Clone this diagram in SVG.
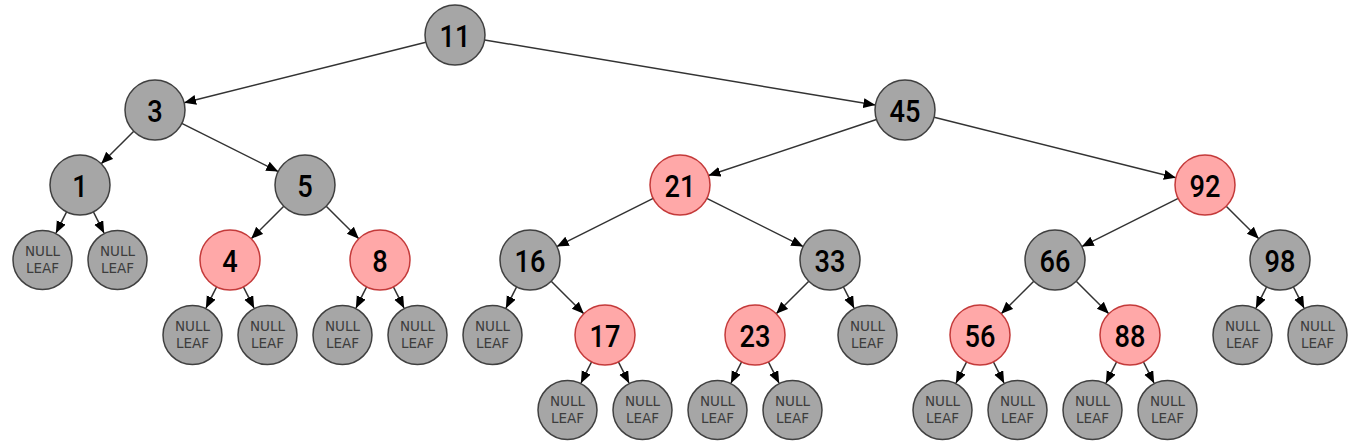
<svg xmlns="http://www.w3.org/2000/svg" width="1358" height="446" viewBox="0 0 1358 446">
<style>
.b circle{fill:#a6a6a6;stroke:#404040;stroke-width:1.5}
.r circle{fill:#ffa8a8;stroke:#c43a3a;stroke-width:1.5}
.n{font-family:Roboto,"DejaVu Sans",sans-serif;font-weight:500;font-size:32px;fill:#000;text-anchor:middle}
.l circle{fill:#a6a6a6;stroke:#404040;stroke-width:1.5}
.l text{font-family:"DejaVu Sans",sans-serif;font-size:13.5px;fill:#3c3c3c;text-anchor:middle}
#edges line{stroke:#333;stroke-width:1.5;marker-end:url(#ah)}
</style>
<defs>
<marker id="ah" markerUnits="userSpaceOnUse" markerWidth="13" markerHeight="11" refX="12" refY="5" orient="auto">
<path d="M0,0 L12,5 L0,10 z" fill="#000"/>
</marker>
</defs>
<rect width="1358" height="446" fill="#fff"/>
<g id="edges">
<line x1="425.9" y1="42.3" x2="184.1" y2="102.7"/>
<line x1="484.6" y1="39.9" x2="875.4" y2="105.1"/>
<line x1="133.8" y1="131.2" x2="101.2" y2="163.8"/>
<line x1="181.8" y1="123.4" x2="278.2" y2="171.6"/>
<line x1="876.5" y1="119.5" x2="708.5" y2="175.5"/>
<line x1="934.1" y1="117.3" x2="1175.9" y2="177.7"/>
<line x1="66.6" y1="211.8" x2="55.9" y2="233.2"/>
<line x1="93.4" y1="211.8" x2="104.1" y2="233.2"/>
<line x1="283.8" y1="206.2" x2="251.2" y2="238.8"/>
<line x1="326.2" y1="206.2" x2="358.8" y2="238.8"/>
<line x1="653.2" y1="198.4" x2="556.8" y2="246.6"/>
<line x1="706.8" y1="198.4" x2="803.2" y2="246.6"/>
<line x1="1178.2" y1="198.4" x2="1081.8" y2="246.6"/>
<line x1="1226.2" y1="206.2" x2="1258.8" y2="238.8"/>
<line x1="216.6" y1="286.8" x2="205.9" y2="308.2"/>
<line x1="243.4" y1="286.8" x2="254.1" y2="308.2"/>
<line x1="366.6" y1="286.8" x2="355.9" y2="308.2"/>
<line x1="393.4" y1="286.8" x2="404.1" y2="308.2"/>
<line x1="516.6" y1="286.8" x2="505.9" y2="308.2"/>
<line x1="551.2" y1="281.2" x2="583.8" y2="313.8"/>
<line x1="808.8" y1="281.2" x2="776.2" y2="313.8"/>
<line x1="843.4" y1="286.8" x2="854.1" y2="308.2"/>
<line x1="1033.8" y1="281.2" x2="1001.2" y2="313.8"/>
<line x1="1076.2" y1="281.2" x2="1108.8" y2="313.8"/>
<line x1="1266.6" y1="286.8" x2="1255.9" y2="308.2"/>
<line x1="1293.4" y1="286.8" x2="1304.1" y2="308.2"/>
<line x1="591.6" y1="361.8" x2="580.9" y2="383.2"/>
<line x1="618.4" y1="361.8" x2="629.1" y2="383.2"/>
<line x1="741.6" y1="361.8" x2="730.9" y2="383.2"/>
<line x1="768.4" y1="361.8" x2="779.1" y2="383.2"/>
<line x1="966.6" y1="361.8" x2="955.9" y2="383.2"/>
<line x1="993.4" y1="361.8" x2="1004.1" y2="383.2"/>
<line x1="1116.6" y1="361.8" x2="1105.9" y2="383.2"/>
<line x1="1143.4" y1="361.8" x2="1154.1" y2="383.2"/>
</g>
<g id="n11" class="b"><circle cx="455" cy="35" r="30"/><text class="n" transform="translate(455 47) scale(0.85 1)">11</text></g>
<g id="n3" class="b"><circle cx="155" cy="110" r="30"/><text class="n" transform="translate(155 122) scale(0.85 1)">3</text></g>
<g id="n45" class="b"><circle cx="905" cy="110" r="30"/><text class="n" transform="translate(905 122) scale(0.85 1)">45</text></g>
<g id="n1" class="b"><circle cx="80" cy="185" r="30"/><text class="n" transform="translate(80 197) scale(0.85 1)">1</text></g>
<g id="n5" class="b"><circle cx="305" cy="185" r="30"/><text class="n" transform="translate(305 197) scale(0.85 1)">5</text></g>
<g id="n21" class="r"><circle cx="680" cy="185" r="30"/><text class="n" transform="translate(680 197) scale(0.85 1)">21</text></g>
<g id="n92" class="r"><circle cx="1205" cy="185" r="30"/><text class="n" transform="translate(1205 197) scale(0.85 1)">92</text></g>
<g id="n4" class="r"><circle cx="230" cy="260" r="30"/><text class="n" transform="translate(230 272) scale(0.85 1)">4</text></g>
<g id="n8" class="r"><circle cx="380" cy="260" r="30"/><text class="n" transform="translate(380 272) scale(0.85 1)">8</text></g>
<g id="n16" class="b"><circle cx="530" cy="260" r="30"/><text class="n" transform="translate(530 272) scale(0.85 1)">16</text></g>
<g id="n33" class="b"><circle cx="830" cy="260" r="30"/><text class="n" transform="translate(830 272) scale(0.85 1)">33</text></g>
<g id="n66" class="b"><circle cx="1055" cy="260" r="30"/><text class="n" transform="translate(1055 272) scale(0.85 1)">66</text></g>
<g id="n98" class="b"><circle cx="1280" cy="260" r="30"/><text class="n" transform="translate(1280 272) scale(0.85 1)">98</text></g>
<g id="n17" class="r"><circle cx="605" cy="335" r="30"/><text class="n" transform="translate(605 347) scale(0.85 1)">17</text></g>
<g id="n23" class="r"><circle cx="755" cy="335" r="30"/><text class="n" transform="translate(755 347) scale(0.85 1)">23</text></g>
<g id="n56" class="r"><circle cx="980" cy="335" r="30"/><text class="n" transform="translate(980 347) scale(0.85 1)">56</text></g>
<g id="n88" class="r"><circle cx="1130" cy="335" r="30"/><text class="n" transform="translate(1130 347) scale(0.85 1)">88</text></g>
<g id="leaf1a" class="l"><circle cx="42.5" cy="260" r="29.5"/><text x="42.5" y="256">NULL</text><text x="42.5" y="273">LEAF</text></g>
<g id="leaf1b" class="l"><circle cx="117.5" cy="260" r="29.5"/><text x="117.5" y="256">NULL</text><text x="117.5" y="273">LEAF</text></g>
<g id="leaf4a" class="l"><circle cx="192.5" cy="335" r="29.5"/><text x="192.5" y="331">NULL</text><text x="192.5" y="348">LEAF</text></g>
<g id="leaf4b" class="l"><circle cx="267.5" cy="335" r="29.5"/><text x="267.5" y="331">NULL</text><text x="267.5" y="348">LEAF</text></g>
<g id="leaf8a" class="l"><circle cx="342.5" cy="335" r="29.5"/><text x="342.5" y="331">NULL</text><text x="342.5" y="348">LEAF</text></g>
<g id="leaf8b" class="l"><circle cx="417.5" cy="335" r="29.5"/><text x="417.5" y="331">NULL</text><text x="417.5" y="348">LEAF</text></g>
<g id="leaf16a" class="l"><circle cx="492.5" cy="335" r="29.5"/><text x="492.5" y="331">NULL</text><text x="492.5" y="348">LEAF</text></g>
<g id="leaf33b" class="l"><circle cx="867.5" cy="335" r="29.5"/><text x="867.5" y="331">NULL</text><text x="867.5" y="348">LEAF</text></g>
<g id="leaf98a" class="l"><circle cx="1242.5" cy="335" r="29.5"/><text x="1242.5" y="331">NULL</text><text x="1242.5" y="348">LEAF</text></g>
<g id="leaf98b" class="l"><circle cx="1317.5" cy="335" r="29.5"/><text x="1317.5" y="331">NULL</text><text x="1317.5" y="348">LEAF</text></g>
<g id="leaf17a" class="l"><circle cx="567.5" cy="410" r="29.5"/><text x="567.5" y="406">NULL</text><text x="567.5" y="423">LEAF</text></g>
<g id="leaf17b" class="l"><circle cx="642.5" cy="410" r="29.5"/><text x="642.5" y="406">NULL</text><text x="642.5" y="423">LEAF</text></g>
<g id="leaf23a" class="l"><circle cx="717.5" cy="410" r="29.5"/><text x="717.5" y="406">NULL</text><text x="717.5" y="423">LEAF</text></g>
<g id="leaf23b" class="l"><circle cx="792.5" cy="410" r="29.5"/><text x="792.5" y="406">NULL</text><text x="792.5" y="423">LEAF</text></g>
<g id="leaf56a" class="l"><circle cx="942.5" cy="410" r="29.5"/><text x="942.5" y="406">NULL</text><text x="942.5" y="423">LEAF</text></g>
<g id="leaf56b" class="l"><circle cx="1017.5" cy="410" r="29.5"/><text x="1017.5" y="406">NULL</text><text x="1017.5" y="423">LEAF</text></g>
<g id="leaf88a" class="l"><circle cx="1092.5" cy="410" r="29.5"/><text x="1092.5" y="406">NULL</text><text x="1092.5" y="423">LEAF</text></g>
<g id="leaf88b" class="l"><circle cx="1167.5" cy="410" r="29.5"/><text x="1167.5" y="406">NULL</text><text x="1167.5" y="423">LEAF</text></g>
</svg>
